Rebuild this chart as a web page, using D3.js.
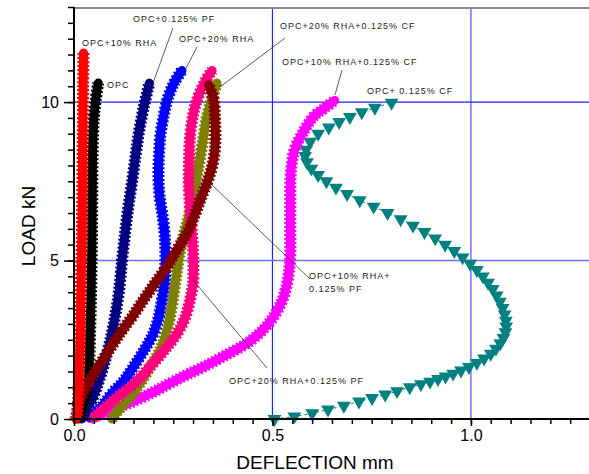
<!DOCTYPE html>
<html><head><meta charset="utf-8">
<script src="https://cdn.jsdelivr.net/npm/d3@7"></script>
<style>body{margin:0;background:#fff}svg{display:block}text{font-family:Arial,"Liberation Sans",sans-serif}</style>
</head><body><svg id="c" width="589" height="474"></svg>
<script>
// ---- data (deflection mm, load kN) ----
const xTicks = [0.0, 0.5, 1.0];
const yTicks = [0, 5, 10];
const seriesNames = ["OPC+ 0.125% CF","OPC+10% RHA+0.125% CF","OPC+20% RHA+0.125% CF","OPC+20% RHA","OPC+0.125% PF","OPC+20% RHA+0.125% PF","OPC","OPC+10% RHA+ 0.125% PF","OPC+10% RHA"];
const seriesColors = ["#008080","#ff00ff","#808000","#0000ff","#000080","#ff0080","#000000","#800000","#ff0000"];

const opcCF_x = [0.505,0.555,0.6,0.64,0.68,0.718,0.751,0.784,0.814,0.846,0.874,0.897,0.917,0.936,0.955,0.975,0.995,1.015,1.033,1.05,1.063,1.074,1.082,1.087,1.089,
  1.088,1.085,1.08,1.073,1.065,1.055,1.043,1.03,1.015,0.998,0.979,0.958,0.935,0.91,0.883,0.854,0.823,0.79,0.755,0.72,0.688,0.66,0.636,0.615,0.598,0.587,0.582,0.585,0.595,0.615,0.642,0.668,0.695,0.725,0.758,0.8];
const opcCF_y = [0.0,0.08,0.18,0.3,0.42,0.55,0.66,0.77,0.88,1.0,1.1,1.18,1.26,1.34,1.43,1.53,1.64,1.77,1.91,2.06,2.22,2.39,2.56,2.74,2.92,
  3.1,3.3,3.5,3.7,3.9,4.1,4.3,4.5,4.7,4.9,5.1,5.3,5.5,5.7,5.9,6.1,6.3,6.5,6.7,6.9,7.1,7.3,7.5,7.7,7.9,8.1,8.3,8.5,8.75,9.0,9.2,9.37,9.53,9.68,9.82,9.98];

const rha10CF_x = [0.04,0.1,0.158,0.2,0.242,0.285,0.327,0.38,0.436,0.475,0.503,0.525,0.537,0.543,0.545,0.545,0.545,0.545,0.545,0.548,0.556,0.575,0.604,0.63,0.657];
const rha10CF_y = [0.02,0.3,0.6,0.85,1.13,1.4,1.65,2.0,2.39,2.8,3.23,3.75,4.28,4.8,5.34,5.9,6.4,6.9,7.44,8.0,8.5,9.0,9.55,9.8,10.05];

const rha20CF_x = [0.095,0.12,0.145,0.167,0.19,0.217,0.232,0.242,0.255,0.268,0.289,0.303,0.314,0.325,0.335,0.35,0.36];
const rha20CF_y = [0.0,0.4,0.75,1.13,1.6,2.18,2.7,3.23,4.28,5.34,6.4,7.2,7.97,8.8,9.55,10.2,10.6];

const rha20_x = [0.04,0.07,0.095,0.125,0.15,0.178,0.2,0.213,0.222,0.228,0.23,0.23,0.228,0.222,0.216,0.213,0.213,0.215,0.218,0.225,0.235,0.252,0.272];
const rha20_y = [0.05,0.4,0.8,1.2,1.65,2.2,2.7,3.2,3.8,4.3,4.8,5.4,5.9,6.5,7.0,7.5,8.0,8.5,9.0,9.5,10.07,10.6,11.0];

const opcPF_x = [0.02,0.03,0.045,0.06,0.075,0.09,0.103,0.113,0.121,0.129,0.137,0.146,0.155,0.163,0.175,0.19];
const opcPF_y = [0.0,0.3,0.6,1.1,1.7,2.4,3.2,4.0,5.0,5.9,6.7,7.45,8.3,9.0,9.8,10.6];

const rha20PF_x = [0.05,0.1,0.15,0.192,0.23,0.26,0.28,0.293,0.3,0.301,0.3,0.297,0.293,0.289,0.29,0.293,0.3,0.31,0.328,0.348];
const rha20PF_y = [0.05,0.6,1.1,1.65,2.2,2.7,3.2,3.8,4.3,4.8,5.3,5.9,6.6,7.4,8.2,9.0,9.6,10.07,10.6,11.0];

const opc_x = [0.012,0.02,0.03,0.037,0.04,0.043,0.045,0.046,0.047,0.05,0.055,0.061];
const opc_y = [0.0,0.3,0.8,1.5,2.5,4.0,5.5,7.0,8.5,9.5,10.1,10.6];

const rha10PF_x = [0.005,0.015,0.035,0.061,0.09,0.116,0.145,0.175,0.205,0.234,0.26,0.285,0.303,0.318,0.335,0.348,0.355,0.356,0.355,0.352,0.339];
const rha10PF_y = [0.0,0.6,1.1,1.65,2.2,2.7,3.2,3.76,4.3,4.8,5.35,5.86,6.4,6.9,7.45,7.97,8.5,9.0,9.55,10.07,10.55];

const rha10_x = [0.006,0.01,0.013,0.016,0.018,0.02,0.021,0.022,0.023,0.024];
const rha10_y = [0.0,0.5,1.5,3.0,4.5,6.0,7.5,9.0,10.5,11.55];

const seriesX = [opcCF_x, rha10CF_x, rha20CF_x, rha20_x, opcPF_x, rha20PF_x, opc_x, rha10PF_x, rha10_x];
const seriesY = [opcCF_y, rha10CF_y, rha20CF_y, rha20_y, opcPF_y, rha20PF_y, opc_y, rha10PF_y, rha10_y];

// ---- annotation texts ----
const labelText = [["OPC+10% RHA"],["OPC"],["OPC+0.125% PF"],["OPC+20% RHA"],["OPC+20% RHA+0.125% CF"],["OPC+10% RHA+0.125% CF"],["OPC+ 0.125% CF"],["OPC+10% RHA+","0.125% PF"],["OPC+20% RHA+0.125% PF"]];

// ---- chart ----
const svg = d3.select("#c");
const x = d3.scaleLinear().domain([0, 1.3]).range([74, 590]);
const y = d3.scaleLinear().domain([0, 13]).range([419, 7]);

// grid lines
const g = svg.append("g");
g.append("line").attr("x1", x(0.5)).attr("x2", x(0.5)).attr("y1", y(13)).attr("y2", y(0)).attr("stroke", "#2020ff").attr("stroke-width", 1.2);
g.append("line").attr("x1", x(1.0)).attr("x2", x(1.0)).attr("y1", y(13)).attr("y2", y(0)).attr("stroke", "#7070ff").attr("stroke-width", 1.5);
g.append("line").attr("x1", x(0)).attr("x2", 589).attr("y1", y(10)).attr("y2", y(10)).attr("stroke", "#2020ff").attr("stroke-width", 1.2);
g.append("line").attr("x1", x(0)).attr("x2", 589).attr("y1", y(5)).attr("y2", y(5)).attr("stroke", "#7070ff").attr("stroke-width", 1.5);

// top frame line
svg.append("line").attr("x1", x(0)).attr("x2", 589).attr("y1", 8).attr("y2", 8).attr("stroke", "#8a8a8a").attr("stroke-width", 2);

// series
const line = d3.line().x(d => x(d[0])).y(d => y(d[1])).curve(d3.curveCatmullRom.alpha(0.5));
const sg = svg.append("g");
seriesX.forEach((xs, i) => {
  const pts = xs.map((v, j) => [v, seriesY[i][j]]);
  const col = seriesColors[i];
  if (i === 0) {
    sg.append("path").attr("d", line(pts)).attr("fill", "none").attr("stroke", col).attr("stroke-width", 1).attr("stroke-dasharray", "3,3");
    sg.selectAll(null).data(pts).join("path")
      .attr("d", d3.symbol().type(d3.symbolTriangle).size(82))
      .attr("transform", d => `translate(${x(d[0])},${y(d[1])}) rotate(180)`)
      .attr("fill", col);
  } else {
    sg.append("path").attr("d", line(pts)).attr("fill", "none").attr("stroke", col)
      .attr("stroke-width", 12).attr("stroke-dasharray", "2,2").attr("stroke-linecap", "butt");
    sg.append("path").attr("d", line(pts)).attr("fill", "none").attr("stroke", col)
      .attr("stroke-width", 9).attr("stroke-linecap", "round").attr("stroke-linejoin", "round");
  }
});

// axes
const yMinor = d3.axisLeft(y).tickValues(d3.range(0, 13.01, 0.5)).tickSize(6).tickFormat("");
svg.append("g").attr("transform", `translate(${x(0)},0)`).call(yMinor).call(a => a.select(".domain").remove()).selectAll("line").attr("stroke-width", 1.5);
const yMajor = d3.axisLeft(y).tickValues(yTicks).tickSize(10).tickPadding(5).tickFormat(d3.format("d"));
svg.append("g").attr("transform", `translate(${x(0)},0)`).call(yMajor)
  .call(a => a.select(".domain").remove())
  .call(a => a.selectAll("line").attr("stroke-width", 1.5))
  .call(a => a.selectAll("text").attr("font-size", 16).attr("fill", "#000").attr("font-family", "Arial"));

const xMinor = d3.axisBottom(x).tickValues(d3.range(0, 1.2501, 0.05)).tickSize(5).tickFormat("");
svg.append("g").attr("transform", `translate(0,${y(0)})`).call(xMinor).call(a => a.select(".domain").remove()).selectAll("line").attr("stroke-width", 1.5);
const xMajor = d3.axisBottom(x).tickValues(xTicks).tickSize(7).tickPadding(4).tickFormat(d3.format(".1f"));
svg.append("g").attr("transform", `translate(0,${y(0)})`).call(xMajor)
  .call(a => a.select(".domain").remove())
  .call(a => a.selectAll("line").attr("stroke-width", 1.5))
  .call(a => a.selectAll("text").attr("font-size", 16).attr("fill", "#000").attr("font-family", "Arial"));

// axis lines
svg.append("line").attr("x1", x(0)).attr("x2", x(0)).attr("y1", 7).attr("y2", y(0) + 1).attr("stroke", "#000").attr("stroke-width", 2);
svg.append("line").attr("x1", x(0) - 1).attr("x2", 589).attr("y1", y(0)).attr("y2", y(0)).attr("stroke", "#000").attr("stroke-width", 2);

// axis titles
svg.append("text").attr("x", 315).attr("y", 469).attr("text-anchor", "middle").attr("font-size", 19).attr("fill", "#000").text("DEFLECTION mm");
svg.append("text").attr("transform", "translate(35,226) rotate(-90)").attr("text-anchor", "middle").attr("font-size", 19).attr("fill", "#000").text("LOAD kN");

// annotation labels
const labelPos = [[82, 46], [107, 88], [133, 22], [179, 42], [280, 29], [282, 65], [367, 94], [309, 279], [229, 384]];
const pointers = [null, null, [[173, 28], [153, 83]], [[197, 47], [185, 70]], [[285, 38], [220, 87]], [[342, 70], [335, 95]], null, [[310, 279], [210, 183]], [[267, 368], [193, 280]]];
const ag = svg.append("g");
pointers.forEach(p => { if (p) ag.append("line").attr("x1", p[0][0]).attr("y1", p[0][1]).attr("x2", p[1][0]).attr("y2", p[1][1]).attr("stroke", "#333").attr("stroke-width", 0.8); });
labelText.forEach((lines, i) => {
  const t = ag.append("text").attr("x", labelPos[i][0]).attr("y", labelPos[i][1]).attr("font-size", 9).attr("letter-spacing", 1).attr("fill", "#222");
  lines.forEach((s, k) => t.append("tspan").attr("x", labelPos[i][0]).attr("dy", k ? 13 : 0).text(s));
});
</script></body></html>
